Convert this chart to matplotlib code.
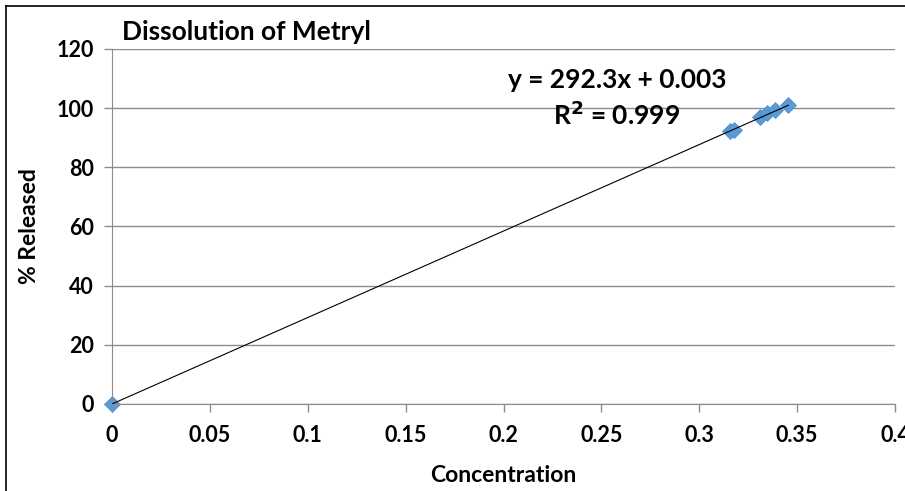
import matplotlib
matplotlib.use("Agg")
import matplotlib.pyplot as plt
import numpy as np
from matplotlib.lines import Line2D

conc = [0.0, 0.3155, 0.3175, 0.331, 0.3345, 0.3385, 0.3455]
released = [0.0, 92.3, 92.6, 97.0, 98.3, 99.4, 101.1]
slope = 292.3
intercept = 0.003
xticks = [0, 0.05, 0.1, 0.15, 0.2, 0.25, 0.3, 0.35, 0.4]
xticklabels = ["0", "0.05", "0.1", "0.15", "0.2", "0.25", "0.3", "0.35", "0.4"]
yticks = [0, 20, 40, 60, 80, 100, 120]

plt.rcParams['font.family'] = ['Lato', 'DejaVu Sans']

fig = plt.figure(figsize=(9.05, 4.91), dpi=100)
ax = fig.add_axes([112/905, 1-404/491, (895-112)/905, (404-49)/491])

ax.set_xlim(0, 0.4)
ax.set_ylim(0, 120)
ax.set_xticks(xticks)
ax.set_xticklabels(xticklabels)
ax.set_yticks(yticks)
ax.grid(axis='y', color='#8c8c8c', linewidth=1)
ax.set_axisbelow(True)
for s in ['top', 'right']:
    ax.spines[s].set_visible(False)
ax.spines['left'].set_color('#8c8c8c')
ax.spines['bottom'].set_color('#8c8c8c')
ax.tick_params(axis='both', direction='out', length=6, color='#8c8c8c', labelsize=15.5, width=1)
ax.tick_params(axis='y', pad=7)
ax.tick_params(axis='x', pad=9)
for lab in ax.get_xticklabels() + ax.get_yticklabels():
    lab.set_fontweight('bold')

xs = np.array([min(conc), max(conc)])
ax.plot(xs, slope * xs + intercept, color='black', linewidth=0.8, zorder=3)
ax.plot(conc, released, linestyle='none', marker='D', markersize=8,
        color='#5b9bd5', markeredgecolor='#4a8bc8', markeredgewidth=0.5, zorder=2, clip_on=False)

ax.set_xlabel("Concentration", fontsize=16.5, fontweight='bold', labelpad=14)
ax.set_ylabel("% Released", fontsize=16.5, fontweight='bold', labelpad=12)

fig.text(122/905, 1-32/491, "Dissolution of Metryl", fontsize=19, fontweight='bold', va='center', ha='left')
fig.text(617/905, 1-80/491, "y = 292.3x + 0.003", fontsize=19, fontweight='bold', va='center', ha='center')
fig.text(617/905, 1-115/491, "R$^\\mathbf{2}$ = 0.999", fontsize=19, fontweight='bold', va='center', ha='center')

fig.add_artist(Line2D([6/905, 6/905], [0, 1-6/491], transform=fig.transFigure, color='black', linewidth=1.2))
fig.add_artist(Line2D([6/905, 1], [1-6/491, 1-6/491], transform=fig.transFigure, color='black', linewidth=1.2))

fig.savefig("out.png", dpi=100)
